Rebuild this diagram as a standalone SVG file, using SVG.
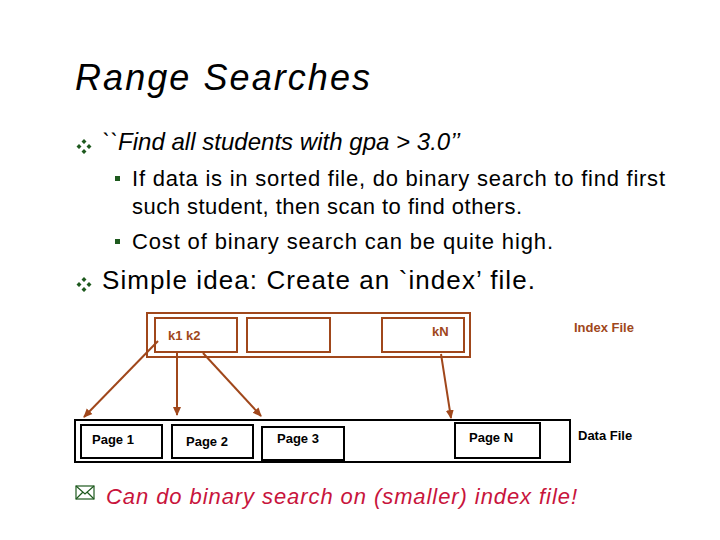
<svg xmlns="http://www.w3.org/2000/svg" width="720" height="540" viewBox="0 0 720 540">
<style>
.t{font-family:"Liberation Sans",Arial,sans-serif;fill:#000}
.br{fill:none;stroke:#a0471b;stroke-width:2}
.bk{fill:#fff;stroke:#000;stroke-width:2}
.lb{font-family:"Liberation Sans",Arial,sans-serif;font-size:13px;font-weight:bold;fill:#000}
.ib{font-family:"Liberation Sans",Arial,sans-serif;font-size:13px;font-weight:bold;fill:#a0471b}
.c{stroke:#a0471b;stroke-width:2;fill:none;marker-end:url(#ah)}
.dia{fill:#1e5a1e}
</style>
<defs>
<marker id="ah" markerWidth="10" markerHeight="10" refX="8" refY="5" orient="auto" markerUnits="userSpaceOnUse"><path d="M0,1 L9,5 L0,9 Z" fill="#a0471b"/></marker>
<g id="bul"><path class="dia" d="M5,0 L7.5,2.5 L5,5 L2.5,2.5Z M0,5 L2.5,7.5 L0,10 L-2.5,7.5Z M10,5 L12.5,7.5 L10,10 L7.5,7.5Z M5,10 L7.5,12.5 L5,15 L2.5,12.5Z"/></g>
</defs>
<rect width="720" height="540" fill="#fff"/>
<text class="t" x="75" y="90" font-size="36" font-style="italic" textLength="295">Range Searches</text>
<use href="#bul" x="79" y="139"/>
<text class="t" x="102" y="150" font-size="24" font-style="italic" textLength="358">``Find all students with gpa &gt; 3.0’’</text>
<rect x="115" y="176" width="5" height="5" class="dia"/>
<text class="t" x="132" y="186" font-size="22" textLength="533">If data is in sorted file, do binary search to find first</text>
<text class="t" x="132" y="214" font-size="22" textLength="390">such student, then scan to find others.</text>
<rect x="115" y="239" width="5" height="5" class="dia"/>
<text class="t" x="132" y="249" font-size="22" textLength="421">Cost of binary search can be quite high.</text>
<use href="#bul" x="79" y="277"/>
<text class="t" x="102" y="289" font-size="26" textLength="433">Simple idea:  Create an `index’ file.</text>
<g id="index-file">
<rect class="br" x="147" y="313" width="323" height="44"/>
<rect class="br" x="155" y="318" width="82" height="34"/>
<rect class="br" x="247" y="318" width="83" height="34"/>
<rect class="br" x="382" y="318" width="82" height="34"/>
<text class="ib" x="168" y="340">k1  k2</text>
<text class="ib" x="432" y="336">kN</text>
<text class="ib" x="574" y="332" font-size="14">Index File</text>
</g>
<g id="data-file">
<rect class="bk" x="75" y="420" width="495" height="42"/>
<rect class="bk" x="81" y="425" width="81" height="33"/>
<rect class="bk" x="172" y="425" width="81" height="33"/>
<rect class="bk" x="262" y="427" width="82" height="33"/>
<rect class="bk" x="455" y="423" width="85" height="35"/>
<text class="lb" x="92" y="444" font-weight="normal">Page 1</text>
<text class="lb" x="186" y="446" font-weight="normal">Page 2</text>
<text class="lb" x="277" y="443" font-weight="normal">Page 3</text>
<text class="lb" x="469" y="442" font-weight="normal">Page N</text>
<text class="lb" x="578" y="440" font-size="14" font-weight="normal">Data File</text>
</g>
<g id="connectors">
<line class="c" x1="158" y1="341" x2="84" y2="417"/>
<line class="c" x1="177" y1="352" x2="177" y2="415"/>
<line class="c" x1="203" y1="353" x2="261" y2="416"/>
<line class="c" x1="441" y1="354" x2="451" y2="418"/>
</g>
<g id="note">
<rect x="76" y="486" width="18" height="13" fill="none" stroke="#1e5a1e" stroke-width="1.2"/>
<path d="M76,486 L85,494 L94,486 M76,499 L83,492 M94,499 L87,492" fill="none" stroke="#1e5a1e" stroke-width="1.2"/>
<text x="106" y="504" font-family="Liberation Sans,Arial,sans-serif" font-size="22" font-style="italic" fill="#c8143c" textLength="471">Can do binary search on (smaller) index file!</text>
</g>
</svg>
